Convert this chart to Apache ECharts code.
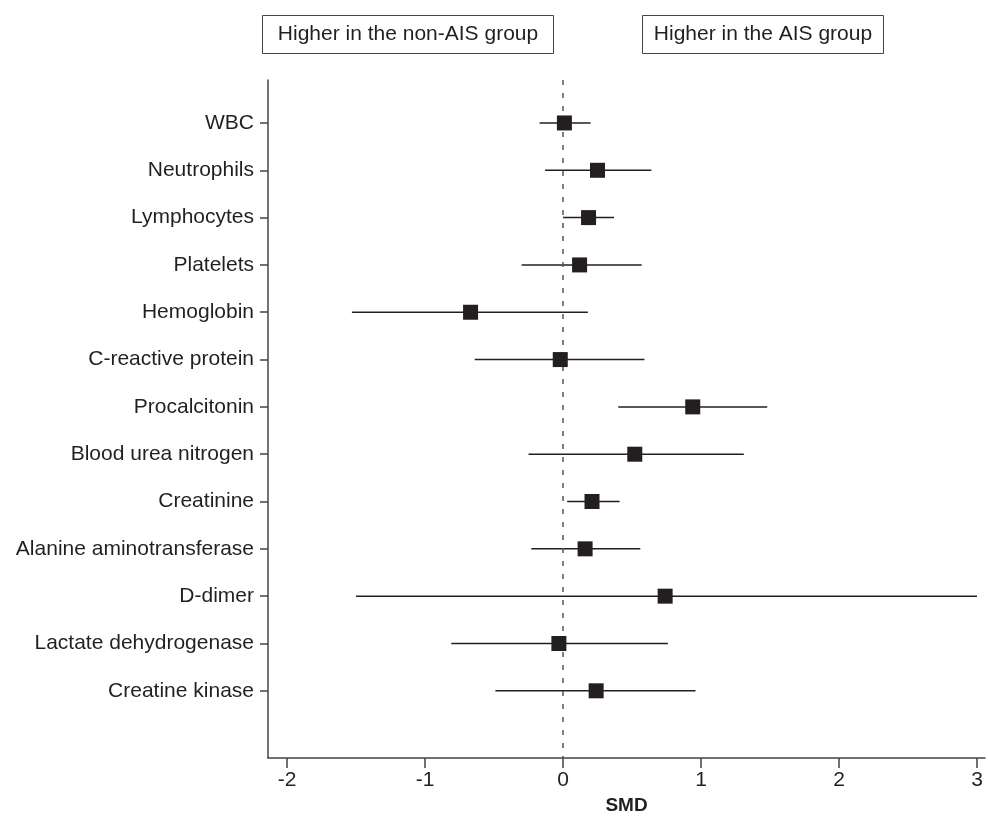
<!DOCTYPE html>
<html>
<head>
<meta charset="utf-8">
<script src="https://cdn.jsdelivr.net/npm/echarts@6/dist/echarts.min.js"></script>
<style>
  html, body { margin: 0; padding: 0; background: #fff; }
  #chart { width: 988px; height: 816px; }
</style>
</head>
<body>
<div id="chart"></div>
<script>
// forest plot data (SMD with 95% CI)
const markers = ['WBC', 'Neutrophils', 'Lymphocytes', 'Platelets', 'Hemoglobin',
  'C-reactive protein', 'Procalcitonin', 'Blood urea nitrogen', 'Creatinine',
  'Alanine aminotransferase', 'D-dimer', 'Lactate dehydrogenase', 'Creatine kinase']
const smd = [0.01, 0.25, 0.185, 0.12, -0.67, -0.02, 0.94, 0.52, 0.21, 0.16, 0.74, -0.03, 0.24]
const ciLow = [-0.17, -0.13, 0.0, -0.30, -1.53, -0.64, 0.40, -0.25, 0.03, -0.23, -1.50, -0.81, -0.49]
const ciHigh = [0.20, 0.64, 0.37, 0.57, 0.18, 0.59, 1.48, 1.31, 0.41, 0.56, 3.0, 0.76, 0.96]
const xTicks = [-2, -1, 0, 1, 2, 3]

const ink = '#231f20'
const font = 'Liberation Sans, Arial, sans-serif'
const rows = markers.map((m, i) => i)

const chart = echarts.init(document.getElementById('chart'))

const option = {
  animation: false,
  backgroundColor: '#fff',
  textStyle: { fontFamily: font, color: ink },
  grid: { left: 268, right: 3, top: 80, bottom: 58, outerBoundsMode: 'none', containLabel: false },
  xAxis: {
    type: 'value',
    min: -2.138,
    max: 3.058,
    name: 'SMD',
    nameLocation: 'middle',
    nameGap: 35,
    nameTextStyle: { fontSize: 19, fontWeight: 'bold', color: ink, fontFamily: font },
    axisLine: { show: true, onZero: false, lineStyle: { color: '#444', width: 1.5 } },
    axisTick: { show: true, customValues: xTicks, length: 10, lineStyle: { color: '#444', width: 1.5 } },
    axisLabel: { customValues: xTicks, fontSize: 21, color: ink, margin: 12, fontFamily: font },
    splitLine: { show: false }
  },
  yAxis: {
    type: 'value',
    inverse: true,
    min: -0.908,
    max: 13.42,
    axisLine: { show: true, onZero: false, lineStyle: { color: '#444', width: 1.5 } },
    axisTick: { show: true, customValues: rows, length: 8, lineStyle: { color: '#444', width: 1.5 } },
    axisLabel: {
      customValues: rows,
      formatter: (v) => markers[v],
      fontSize: 21,
      color: ink,
      margin: 14,
      fontFamily: font
    },
    splitLine: { show: false }
  },
  graphic: [
    {
      type: 'group', left: 262, top: 15,
      children: [
        { type: 'rect', shape: { x: 0, y: 0, width: 291, height: 38 }, style: { fill: '#fff', stroke: '#444', lineWidth: 1 } },
        { type: 'text', x: 145.5, y: 19, style: { text: 'Higher in the non-AIS group', font: '21px ' + font, fill: ink, align: 'center', verticalAlign: 'middle' } }
      ]
    },
    {
      type: 'group', left: 642, top: 15,
      children: [
        { type: 'rect', shape: { x: 0, y: 0, width: 241, height: 38 }, style: { fill: '#fff', stroke: '#444', lineWidth: 1 } },
        { type: 'text', x: 120.5, y: 19, style: { text: 'Higher in the AIS group', font: '21px ' + font, fill: ink, align: 'center', verticalAlign: 'middle' } }
      ]
    }
  ],
  series: [
    {
      // reference line at SMD = 0
      type: 'line',
      data: [],
      markLine: {
        silent: true,
        symbol: 'none',
        label: { show: false },
        lineStyle: { color: '#555', width: 1.5, type: [5, 8] },
        data: [{ xAxis: 0 }]
      }
    },
    {
      // confidence intervals
      type: 'custom',
      data: rows.map((i) => [ciLow[i], ciHigh[i], i]),
      renderItem: (params, api) => {
        const a = api.coord([api.value(0), api.value(2)])
        const b = api.coord([api.value(1), api.value(2)])
        return {
          type: 'line',
          shape: { x1: a[0], y1: a[1], x2: b[0], y2: b[1] },
          style: { stroke: ink, lineWidth: 1.5 }
        }
      },
      encode: { x: [0, 1], y: 2 }
    },
    {
      // point estimates
      type: 'scatter',
      symbol: 'rect',
      symbolSize: 15,
      itemStyle: { color: ink, opacity: 1 },
      data: rows.map((i) => [smd[i], i]),
      z: 5
    }
  ]
}

chart.setOption(option)
</script>
</body>
</html>
